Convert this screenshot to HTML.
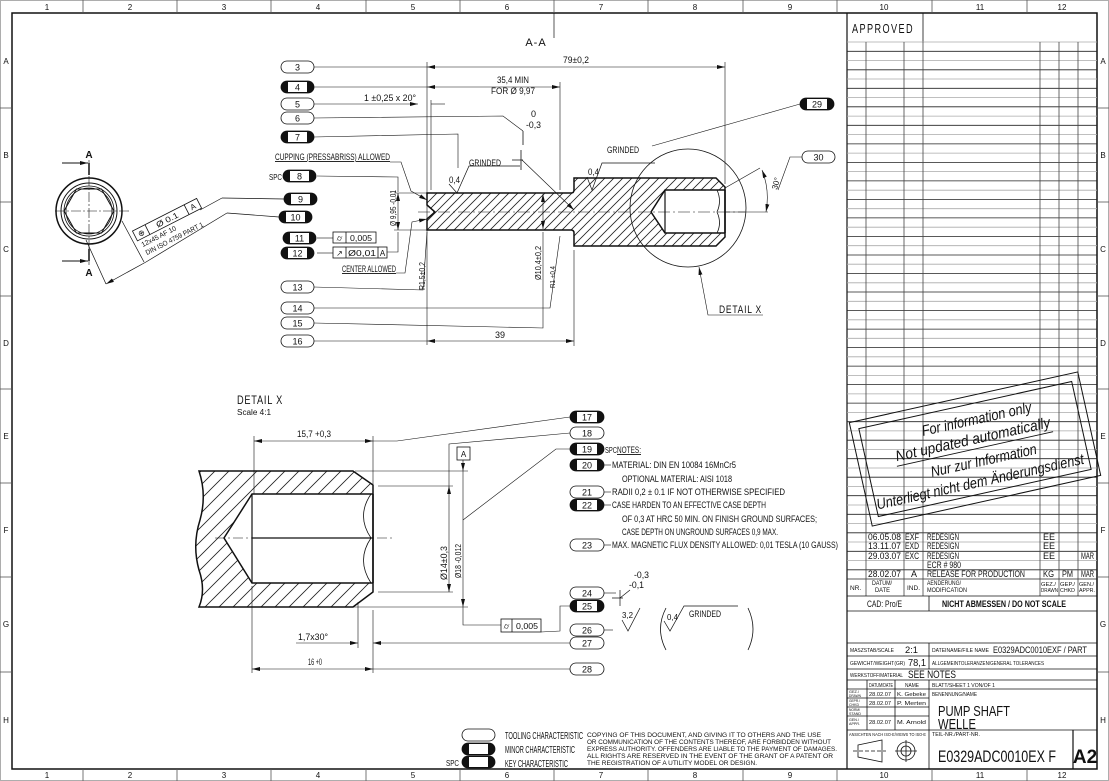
<!DOCTYPE html>
<html><head><meta charset="utf-8"><style>
html,body{margin:0;padding:0;background:#fff;}
svg{display:block;}
text{font-family:"Liberation Sans Narrow","Liberation Sans",sans-serif;fill:#111;}
</style></head><body>
<svg width="1109" height="781" viewBox="0 0 1109 781" xmlns="http://www.w3.org/2000/svg">
<defs>
<pattern id="h1" patternUnits="userSpaceOnUse" width="9" height="9"><path d="M-1,10 L10,-1 M-2,2 L2,-2 M7,11 L11,7" stroke="#222" stroke-width="0.8"/></pattern>
<pattern id="h2" patternUnits="userSpaceOnUse" width="14" height="14"><path d="M-1,15 L15,-1 M-2,2 L2,-2 M12,16 L16,12" stroke="#222" stroke-width="0.8"/></pattern>
<marker id="ar" markerWidth="8" markerHeight="6" refX="8" refY="3" orient="auto" markerUnits="userSpaceOnUse"><path d="M0,1 L8,3 L0,5z" fill="#111"/></marker>
<marker id="al" markerWidth="8" markerHeight="6" refX="0" refY="3" orient="auto" markerUnits="userSpaceOnUse"><path d="M8,1 L0,3 L8,5z" fill="#111"/></marker>
</defs>
<rect width="1109" height="781" fill="#fff"/>
<g stroke="#111" fill="none">
<rect x="12" y="13" width="1085" height="756" stroke-width="1.5"/>
<rect x="0.5" y="0.5" width="1108" height="780" stroke="#999" stroke-width="0.8"/>
</g>
<g stroke="#555" stroke-width="0.8">
<line x1="83" y1="0" x2="83" y2="13"/><line x1="177" y1="0" x2="177" y2="13"/><line x1="271" y1="0" x2="271" y2="13"/><line x1="366" y1="0" x2="366" y2="13"/><line x1="460" y1="0" x2="460" y2="13"/><line x1="554" y1="0" x2="554" y2="13"/><line x1="648" y1="0" x2="648" y2="13"/><line x1="743" y1="0" x2="743" y2="13"/><line x1="837" y1="0" x2="837" y2="13"/><line x1="932" y1="0" x2="932" y2="13"/><line x1="1027" y1="0" x2="1027" y2="13"/>
<line x1="83" y1="769" x2="83" y2="781"/><line x1="177" y1="769" x2="177" y2="781"/><line x1="271" y1="769" x2="271" y2="781"/><line x1="366" y1="769" x2="366" y2="781"/><line x1="460" y1="769" x2="460" y2="781"/><line x1="554" y1="769" x2="554" y2="781"/><line x1="648" y1="769" x2="648" y2="781"/><line x1="743" y1="769" x2="743" y2="781"/><line x1="837" y1="769" x2="837" y2="781"/><line x1="932" y1="769" x2="932" y2="781"/><line x1="1027" y1="769" x2="1027" y2="781"/>
<line x1="0" y1="108" x2="12" y2="108"/><line x1="0" y1="202" x2="12" y2="202"/><line x1="0" y1="296" x2="12" y2="296"/><line x1="0" y1="389" x2="12" y2="389"/><line x1="0" y1="483" x2="12" y2="483"/><line x1="0" y1="577" x2="12" y2="577"/><line x1="0" y1="672" x2="12" y2="672"/>
<line x1="1097" y1="108" x2="1109" y2="108"/><line x1="1097" y1="202" x2="1109" y2="202"/><line x1="1097" y1="296" x2="1109" y2="296"/><line x1="1097" y1="389" x2="1109" y2="389"/><line x1="1097" y1="483" x2="1109" y2="483"/><line x1="1097" y1="577" x2="1109" y2="577"/><line x1="1097" y1="672" x2="1109" y2="672"/>
</g>
<g font-size="8" text-anchor="middle">
<text x="47" y="10">1</text><text x="130" y="10">2</text><text x="224" y="10">3</text><text x="318" y="10">4</text><text x="413" y="10">5</text><text x="507" y="10">6</text><text x="601" y="10">7</text><text x="695" y="10">8</text><text x="790" y="10">9</text><text x="884" y="10">10</text><text x="980" y="10">11</text><text x="1062" y="10">12</text>
<text x="47" y="778">1</text><text x="130" y="778">2</text><text x="224" y="778">3</text><text x="318" y="778">4</text><text x="413" y="778">5</text><text x="507" y="778">6</text><text x="601" y="778">7</text><text x="695" y="778">8</text><text x="790" y="778">9</text><text x="884" y="778">10</text><text x="980" y="778">11</text><text x="1062" y="778">12</text>
<text x="6" y="64">A</text><text x="6" y="158">B</text><text x="6" y="252">C</text><text x="6" y="346">D</text><text x="6" y="439">E</text><text x="6" y="533">F</text><text x="6" y="627">G</text><text x="6" y="723">H</text>
<text x="1103" y="64">A</text><text x="1103" y="158">B</text><text x="1103" y="252">C</text><text x="1103" y="346">D</text><text x="1103" y="439">E</text><text x="1103" y="533">F</text><text x="1103" y="627">G</text><text x="1103" y="723">H</text>
</g>

<!-- LEFT END VIEW -->
<g stroke="#111" fill="none">
<circle cx="89" cy="211" r="33" stroke-width="1.5"/>
<circle cx="89" cy="211" r="28" stroke-width="1"/>
<circle cx="89" cy="211" r="25" stroke-width="0.8"/>
<circle cx="89" cy="211" r="23" stroke-width="0.8"/>
<polygon points="64,211 76.5,189 101.5,189 114,211 101.5,233 76.5,233" stroke-width="1"/>
<line x1="89" y1="160" x2="89" y2="265" stroke-width="0.6" stroke-dasharray="10,2,2,2"/>
<line x1="55" y1="211" x2="130" y2="211" stroke-width="0.6" stroke-dasharray="10,2,2,2"/>
<line x1="62" y1="163" x2="88" y2="163" stroke-width="1" marker-end="url(#ar)"/>
<line x1="62" y1="261" x2="88" y2="261" stroke-width="1" marker-end="url(#ar)"/>
<line x1="89" y1="163" x2="89" y2="175" stroke-width="1.5"/>
<line x1="89" y1="249" x2="89" y2="261" stroke-width="1.5"/>
<line x1="122" y1="221" x2="144" y2="262" stroke-width="0.7"/>
<line x1="86" y1="240" x2="106" y2="284" stroke-width="0.7"/>
<line x1="106" y1="284" x2="146" y2="262" stroke-width="0.7" marker-start="url(#al)"/>
<line x1="200" y1="210" x2="222" y2="198" stroke-width="0.7"/>
<line x1="222" y1="198" x2="284" y2="199" stroke-width="0.7"/>
<line x1="146" y1="262" x2="227" y2="213" stroke-width="0.7"/>
<line x1="227" y1="213" x2="279" y2="217" stroke-width="0.7"/>
</g>
<text x="89" y="158" font-size="10" text-anchor="middle" font-weight="bold">A</text>
<text x="89" y="276" font-size="10" text-anchor="middle" font-weight="bold">A</text>
<g transform="translate(137,240) rotate(-27)">
<rect x="0" y="-10" width="72" height="11" fill="#fff" stroke="#111" stroke-width="0.8"/>
<line x1="14" y1="-10" x2="14" y2="1" stroke="#111" stroke-width="0.8"/>
<line x1="58" y1="-10" x2="58" y2="1" stroke="#111" stroke-width="0.8"/>
<text x="7" y="-1.5" font-size="8" text-anchor="middle">⊕</text>
<text x="24" y="-1.5" font-size="8" textLength="24" lengthAdjust="spacingAndGlyphs">Ø 0.1</text>
<text x="65" y="-1.5" font-size="8" text-anchor="middle">A</text>
<text x="2" y="9" font-size="7" textLength="38" lengthAdjust="spacingAndGlyphs">12x45 AF 10</text>
<text x="2" y="18" font-size="7" textLength="64" lengthAdjust="spacingAndGlyphs">DIN ISO 4759 PART 1</text>
</g>

<!-- SECTION A-A -->
<text x="536" y="46" font-size="11" text-anchor="middle" letter-spacing="1">A-A</text>
<line x1="554" y1="13" x2="554" y2="38" stroke="#111" stroke-width="0.7"/>
<path fill="url(#h1)" fill-rule="evenodd" stroke="#111" stroke-width="1.5" d="M427,193 L571,193 Q574,193 574,190 L574,178 L716,178 L725,187 L725,237 L716,246 L574,246 L574,233 Q574,230 571,230 L427,230 L427,219 L435,212 L427,205 Z M665,190 L651,212 L665,233 L725,233 L725,190 Z"/>
<g stroke="#111" fill="none">
<line x1="725" y1="190" x2="725" y2="233" stroke-width="1.5"/>
<path d="M717,190 Q722,201 717,212 Q722,223 717,233" stroke-width="0.8"/>
<line x1="665" y1="190" x2="665" y2="233" stroke-width="1.2"/>
<line x1="418" y1="212" x2="745" y2="212" stroke-width="0.6" stroke-dasharray="12,3,2,3"/>
<line x1="427" y1="62" x2="427" y2="345" stroke-width="0.6"/>
<line x1="431" y1="100" x2="431" y2="190" stroke-width="0.6"/>
<line x1="560" y1="82" x2="560" y2="190" stroke-width="0.6"/>
<line x1="574" y1="250" x2="574" y2="346" stroke-width="0.6"/>
<line x1="725" y1="62" x2="725" y2="184" stroke-width="0.6"/>
<line x1="314" y1="67" x2="427" y2="67" stroke-width="0.6"/>
<line x1="427" y1="67" x2="725" y2="67" stroke-width="0.6" marker-start="url(#al)" marker-end="url(#ar)"/>
<line x1="314" y1="87" x2="427" y2="87" stroke-width="0.6"/>
<line x1="427" y1="87" x2="560" y2="87" stroke-width="0.6" marker-start="url(#al)" marker-end="url(#ar)"/>
<line x1="314" y1="104" x2="418" y2="104" stroke-width="0.6" marker-end="url(#ar)"/>
<line x1="431" y1="104" x2="445" y2="104" stroke-width="0.6"/>
<line x1="314" y1="341" x2="427" y2="341" stroke-width="0.6"/>
<line x1="427" y1="341" x2="574" y2="341" stroke-width="0.6" marker-start="url(#al)" marker-end="url(#ar)"/>
<polyline points="314,118 503,116 523,131" stroke-width="0.6"/>
<line x1="523" y1="131" x2="523" y2="145" stroke-width="0.8"/>
<path d="M512,160 L523,160 M521,150 L521,170" stroke-width="0.8"/>
<line x1="522" y1="160" x2="574" y2="210" stroke-width="0.6" marker-end="url(#ar)"/>
<polyline points="314,137 458,134 458,168" stroke-width="0.6"/>
<path d="M449,184 L457,193 L469,166 L520,166" stroke-width="0.7"/>
<path d="M587,177 L592,190 L602,163 L655,163" stroke-width="0.7"/>
<line x1="652" y1="146" x2="800" y2="104" stroke-width="0.6"/>
<polyline points="802,157 790,157 778,190" stroke-width="0.6"/>
<path d="M762,170 Q770,190 766,212" stroke-width="0.6" marker-start="url(#al)" marker-end="url(#ar)"/>
<line x1="725" y1="188" x2="760" y2="168" stroke-width="0.6"/>
<line x1="725" y1="212" x2="768" y2="212" stroke-width="0.6"/>
<ellipse cx="688" cy="208" rx="58" ry="59" stroke-width="0.8"/>
<polyline points="699,267 708,315 763,315" stroke-width="0.6" marker-start="url(#al)"/>
<polyline points="390,162 401,162 411,191 427,200" stroke-width="0.6" marker-end="url(#ar)"/>
<polyline points="317,176 398,177 398,192" stroke-width="0.6"/>
<line x1="398" y1="193" x2="398" y2="230" stroke-width="0.6" marker-start="url(#al)" marker-end="url(#ar)"/>
<line x1="394" y1="193" x2="427" y2="193" stroke-width="0.6"/>
<line x1="394" y1="230" x2="427" y2="230" stroke-width="0.6"/>
<polyline points="387,252 398,252 398,232" stroke-width="0.6"/>
<polyline points="317,238 333,238" stroke-width="0.6"/>
<polyline points="317,253 333,253" stroke-width="0.6"/>
<polyline points="396,273 405,273 412,222 427,219" stroke-width="0.6" marker-end="url(#ar)"/>
<polyline points="314,287 423,290 427,232" stroke-width="0.6"/>
<polyline points="314,308 550,308 560,236" stroke-width="0.6"/>
<polyline points="314,323 543,328 543,232" stroke-width="0.6"/>
<line x1="543" y1="194" x2="543" y2="229" stroke-width="0.6" marker-start="url(#al)" marker-end="url(#ar)"/>
</g>
<rect x="333" y="232" width="43" height="11" fill="#fff" stroke="#111" stroke-width="0.8"/>
<line x1="346" y1="232" x2="346" y2="243" stroke="#111" stroke-width="0.8"/>
<text x="339.5" y="241" font-size="8" text-anchor="middle">⌭</text>
<text x="350" y="241" font-size="8" textLength="22" lengthAdjust="spacingAndGlyphs">0,005</text>
<rect x="333" y="247" width="54" height="11" fill="#fff" stroke="#111" stroke-width="0.8"/>
<line x1="346" y1="247" x2="346" y2="258" stroke="#111" stroke-width="0.8"/>
<line x1="378" y1="247" x2="378" y2="258" stroke="#111" stroke-width="0.8"/>
<text x="339.5" y="256" font-size="8" text-anchor="middle">↗</text>
<text x="348" y="256" font-size="8" textLength="28" lengthAdjust="spacingAndGlyphs">Ø0,01</text>
<text x="382.5" y="256" font-size="8" text-anchor="middle">A</text>
<g font-size="9">
<text x="576" y="63" text-anchor="middle" textLength="26" lengthAdjust="spacingAndGlyphs">79±0,2</text>
<text x="513" y="83" text-anchor="middle" textLength="32" lengthAdjust="spacingAndGlyphs">35,4 MIN</text>
<text x="513" y="94" text-anchor="middle" textLength="44" lengthAdjust="spacingAndGlyphs">FOR Ø 9,97</text>
<text x="364" y="101" textLength="52" lengthAdjust="spacingAndGlyphs">1 ±0,25 x 20°</text>
<text x="531" y="117">0</text>
<text x="526" y="128" textLength="15" lengthAdjust="spacingAndGlyphs">-0,3</text>
<text x="469" y="166" textLength="32" lengthAdjust="spacingAndGlyphs">GRINDED</text>
<text x="449" y="183" textLength="11" lengthAdjust="spacingAndGlyphs">0,4</text>
<text x="607" y="153" textLength="32" lengthAdjust="spacingAndGlyphs">GRINDED</text>
<text x="588" y="175" textLength="11" lengthAdjust="spacingAndGlyphs">0,4</text>
<text x="275" y="160" text-decoration="underline" textLength="115" lengthAdjust="spacingAndGlyphs">CUPPING (PRESSABRISS) ALLOWED</text>
<text x="269" y="180" font-size="8" textLength="13" lengthAdjust="spacingAndGlyphs">SPC</text>
<text x="342" y="272" text-decoration="underline" textLength="54" lengthAdjust="spacingAndGlyphs">CENTER ALLOWED</text>
<text x="500" y="338" text-anchor="middle">39</text>
<text x="719" y="313" font-size="11" letter-spacing="1" textLength="43" lengthAdjust="spacingAndGlyphs">DETAIL X</text>
</g>
<text transform="translate(396,226) rotate(-90)" font-size="8" textLength="36" lengthAdjust="spacingAndGlyphs">Ø 9,95 -0,01</text>
<text transform="translate(425,290) rotate(-90)" font-size="8" textLength="28" lengthAdjust="spacingAndGlyphs">R1,5±0,2</text>
<text transform="translate(541,280) rotate(-90)" font-size="8" textLength="34" lengthAdjust="spacingAndGlyphs">Ø10,4±0,2</text>
<text transform="translate(555,288) rotate(-90)" font-size="7" textLength="22" lengthAdjust="spacingAndGlyphs">R1 +0,4</text>
<text transform="translate(777,190) rotate(-75)" font-size="8">30°</text>

<!-- DETAIL X -->
<text x="237" y="404" font-size="12" letter-spacing="1" textLength="46" lengthAdjust="spacingAndGlyphs">DETAIL X</text>
<text x="237" y="415" font-size="8" textLength="34" lengthAdjust="spacingAndGlyphs">Scale 4:1</text>
<path fill="url(#h2)" fill-rule="evenodd" stroke="#111" stroke-width="1.5" d="M199,471 L353,471 L373,485 L373,592 L353,607 L199,607 Q206,590 199,570 Q192,545 200,520 Q207,495 199,471 Z M252,494 L224,538 L252,583 L373,583 L373,494 Z"/>
<g stroke="#111" fill="none">
<line x1="373" y1="494" x2="373" y2="583" stroke-width="1.5"/>
<line x1="252" y1="494" x2="252" y2="583" stroke-width="1.2"/>
<line x1="252" y1="538" x2="373" y2="538" stroke-width="1.2"/>
<path d="M371,494 Q356,516 371,538 Q356,560 371,583" stroke-width="0.8"/>
<line x1="215" y1="538" x2="392" y2="538" stroke-width="0.6" stroke-dasharray="10,3,2,3"/>
<line x1="254" y1="436" x2="254" y2="494" stroke-width="0.6"/>
<line x1="373" y1="436" x2="373" y2="484" stroke-width="0.6"/>
<line x1="254" y1="441" x2="373" y2="441" stroke-width="0.6" marker-start="url(#al)" marker-end="url(#ar)"/>
<polyline points="373,441 397,441 570,417" stroke-width="0.6"/>
<polyline points="570,433 449,444 449,486" stroke-width="0.6"/>
<line x1="449" y1="486" x2="449" y2="592" stroke-width="0.6" marker-start="url(#al)" marker-end="url(#ar)"/>
<line x1="378" y1="486" x2="453" y2="486" stroke-width="0.6"/>
<line x1="378" y1="592" x2="453" y2="592" stroke-width="0.6"/>
<line x1="355" y1="471" x2="468" y2="471" stroke-width="0.6"/>
<line x1="200" y1="607" x2="468" y2="607" stroke-width="0.6"/>
<line x1="463" y1="460" x2="463" y2="471" stroke-width="0.6" marker-end="url(#ar)"/>
<line x1="463" y1="471" x2="463" y2="607" stroke-width="0.6" marker-end="url(#ar)"/>
<polyline points="463,607 463,625 501,625" stroke-width="0.6"/>
<polyline points="570,449 556,449 463,520" stroke-width="0.6"/>
<polyline points="541,632 560,631 560,606 570,606" stroke-width="0.6"/>
<line x1="604" y1="593" x2="616" y2="593" stroke-width="0.6"/>
<path d="M612,598 L623,598 M620,590 L620,606 M620,598 L630,590" stroke-width="0.7"/>
<line x1="604" y1="630" x2="613" y2="630" stroke-width="0.6"/>
<path d="M622,620 L628,631 L640,608" stroke-width="0.7"/>
<path d="M664,621 L670,631 L684,606 L738,606" stroke-width="0.7"/>
<path d="M666,608 Q655,629 666,650" stroke-width="0.8"/>
<path d="M748,608 Q758,629 748,650" stroke-width="0.8"/>
<line x1="373" y1="643" x2="570" y2="643" stroke-width="0.6" marker-start="url(#al)"/>
<line x1="358" y1="602" x2="358" y2="648" stroke-width="0.6"/>
<line x1="296" y1="643" x2="358" y2="643" stroke-width="0.6" marker-end="url(#ar)"/>
<line x1="252" y1="586" x2="252" y2="673" stroke-width="0.6"/>
<line x1="373" y1="610" x2="373" y2="673" stroke-width="0.6"/>
<line x1="252" y1="669" x2="373" y2="669" stroke-width="0.6" marker-start="url(#al)" marker-end="url(#ar)"/>
<line x1="373" y1="669" x2="570" y2="669" stroke-width="0.6"/>
<line x1="604" y1="465" x2="611" y2="465" stroke-width="0.6"/>
<line x1="604" y1="492" x2="611" y2="492" stroke-width="0.6"/>
<line x1="604" y1="505" x2="611" y2="505" stroke-width="0.6"/>
<line x1="604" y1="545" x2="611" y2="545" stroke-width="0.6"/>
</g>
<rect x="457" y="447" width="13" height="13" fill="#fff" stroke="#111" stroke-width="0.8"/>
<text x="463.5" y="457" font-size="8" text-anchor="middle">A</text>
<rect x="501" y="619" width="40" height="13" fill="#fff" stroke="#111" stroke-width="0.8"/>
<line x1="512" y1="619" x2="512" y2="632" stroke="#111" stroke-width="0.8"/>
<text x="506.5" y="629" font-size="8" text-anchor="middle">⌭</text>
<text x="516" y="629" font-size="8" textLength="22" lengthAdjust="spacingAndGlyphs">0,005</text>
<g font-size="9">
<text x="314" y="437" text-anchor="middle" textLength="34" lengthAdjust="spacingAndGlyphs">15,7 +0,3</text>
<text x="298" y="640" textLength="30" lengthAdjust="spacingAndGlyphs">1,7x30°</text>
<text x="315" y="665" text-anchor="middle" textLength="14" lengthAdjust="spacingAndGlyphs">16 +0</text>
<text x="605" y="453" font-size="8" textLength="12" lengthAdjust="spacingAndGlyphs">SPC</text>
<text x="617" y="453" text-decoration="underline" textLength="24" lengthAdjust="spacingAndGlyphs">NOTES:</text>
<text x="612" y="468" textLength="124" lengthAdjust="spacingAndGlyphs">MATERIAL: DIN EN 10084 16MnCr5</text>
<text x="622" y="482" textLength="110" lengthAdjust="spacingAndGlyphs">OPTIONAL MATERIAL: AISI 1018</text>
<text x="612" y="495" textLength="173" lengthAdjust="spacingAndGlyphs">RADII 0,2 ± 0.1 IF NOT OTHERWISE SPECIFIED</text>
<text x="612" y="508" textLength="154" lengthAdjust="spacingAndGlyphs">CASE HARDEN TO AN EFFECTIVE CASE DEPTH</text>
<text x="622" y="522" textLength="195" lengthAdjust="spacingAndGlyphs">OF 0,3 AT HRC 50 MIN. ON FINISH GROUND SURFACES;</text>
<text x="622" y="535" textLength="156" lengthAdjust="spacingAndGlyphs">CASE DEPTH ON UNGROUND SURFACES 0,9 MAX.</text>
<text x="612" y="548" textLength="226" lengthAdjust="spacingAndGlyphs">MAX. MAGNETIC FLUX DENSITY ALLOWED: 0,01 TESLA (10 GAUSS)</text>
<text x="634" y="578" textLength="15" lengthAdjust="spacingAndGlyphs">-0,3</text>
<text x="629" y="588" textLength="15" lengthAdjust="spacingAndGlyphs">-0,1</text>
<text x="689" y="617" textLength="32" lengthAdjust="spacingAndGlyphs">GRINDED</text>
<text x="622" y="618" font-size="8" textLength="11" lengthAdjust="spacingAndGlyphs">3,2</text>
<text x="667" y="620" font-size="8" textLength="11" lengthAdjust="spacingAndGlyphs">0,4</text>
</g>
<text transform="translate(447,580) rotate(-90)" font-size="9" textLength="34" lengthAdjust="spacingAndGlyphs">Ø14±0,3</text>
<text transform="translate(461,578) rotate(-90)" font-size="8" textLength="34" lengthAdjust="spacingAndGlyphs">Ø18 -0,012</text>

<!-- BALLOONS -->
<g stroke="#111" stroke-width="0.8">
<g fill="#fff">
<rect x="281" y="61" width="33" height="12" rx="6"/><rect x="281" y="98" width="33" height="12" rx="6"/><rect x="281" y="112" width="33" height="12" rx="6"/><rect x="281" y="281" width="33" height="12" rx="6"/><rect x="281" y="302" width="33" height="12" rx="6"/><rect x="281" y="317" width="33" height="12" rx="6"/><rect x="281" y="335" width="33" height="12" rx="6"/>
<rect x="802" y="151" width="33" height="12" rx="6"/>
<rect x="570" y="427" width="34" height="12" rx="6"/><rect x="570" y="486" width="34" height="12" rx="6"/><rect x="570" y="539" width="34" height="12" rx="6"/><rect x="570" y="587" width="34" height="12" rx="6"/><rect x="570" y="624" width="34" height="12" rx="6"/><rect x="570" y="637" width="34" height="12" rx="6"/><rect x="570" y="663" width="34" height="12" rx="6"/>
<rect x="462" y="729" width="33" height="12" rx="6"/>
</g>
<g fill="#111">
<rect x="281" y="81" width="33" height="12" rx="6"/><rect x="281" y="131" width="33" height="12" rx="6"/><rect x="283" y="170" width="33" height="12" rx="6"/><rect x="284" y="193" width="33" height="12" rx="6"/><rect x="279" y="211" width="33" height="12" rx="6"/><rect x="283" y="232" width="33" height="12" rx="6"/><rect x="281" y="247" width="33" height="12" rx="6"/>
<rect x="800" y="98" width="34" height="12" rx="6"/>
<rect x="570" y="411" width="34" height="12" rx="6"/><rect x="570" y="443" width="34" height="12" rx="6"/><rect x="570" y="459" width="34" height="12" rx="6"/><rect x="570" y="499" width="34" height="12" rx="6"/><rect x="570" y="600" width="34" height="12" rx="6"/>
<rect x="462" y="743" width="33" height="12" rx="6"/><rect x="462" y="756" width="33" height="12" rx="6"/>
</g>
</g>
<g fill="#fff">
<rect x="288" y="82" width="19" height="10"/><rect x="288" y="132" width="19" height="10"/><rect x="290" y="171" width="19" height="10"/><rect x="291" y="194" width="19" height="10"/><rect x="286" y="212" width="19" height="10"/><rect x="290" y="233" width="19" height="10"/><rect x="288" y="248" width="19" height="10"/>
<rect x="807" y="99" width="20" height="10"/>
<rect x="577" y="412" width="20" height="10"/><rect x="577" y="444" width="20" height="10"/><rect x="577" y="460" width="20" height="10"/><rect x="577" y="500" width="20" height="10"/><rect x="577" y="601" width="20" height="10"/>
<rect x="469" y="744" width="19" height="10"/><rect x="469" y="757" width="19" height="10"/>
</g>
<g font-size="9" text-anchor="middle">
<text x="297.5" y="70.5">3</text><text x="297.5" y="90.5">4</text><text x="297.5" y="107.5">5</text><text x="297.5" y="121.5">6</text><text x="297.5" y="140.5">7</text><text x="299.5" y="179.5">8</text><text x="300.5" y="202.5">9</text><text x="295.5" y="220.5">10</text><text x="299.5" y="241.5">11</text><text x="297.5" y="256.5">12</text><text x="297.5" y="290.5">13</text><text x="297.5" y="311.5">14</text><text x="297.5" y="326.5">15</text><text x="297.5" y="344.5">16</text>
<text x="817" y="107.5">29</text><text x="818.5" y="160.5">30</text>
<text x="587" y="420.5">17</text><text x="587" y="436.5">18</text><text x="587" y="452.5">19</text><text x="587" y="468.5">20</text><text x="587" y="495.5">21</text><text x="587" y="508.5">22</text><text x="587" y="548.5">23</text><text x="587" y="596.5">24</text><text x="587" y="609.5">25</text><text x="587" y="633.5">26</text><text x="587" y="646.5">27</text><text x="587" y="672.5">28</text>
</g>

<!-- legend -->
<text x="446" y="766" font-size="8" textLength="13" lengthAdjust="spacingAndGlyphs">SPC</text>
<g font-size="10">
<text x="505" y="739" textLength="78" lengthAdjust="spacingAndGlyphs">TOOLING CHARACTERISTIC</text>
<text x="505" y="753" textLength="70" lengthAdjust="spacingAndGlyphs">MINOR CHARACTERISTIC</text>
<text x="505" y="767" textLength="63" lengthAdjust="spacingAndGlyphs">KEY CHARACTERISTIC</text>
</g>
<g font-size="6.6">
<text x="587" y="737" textLength="234" lengthAdjust="spacingAndGlyphs">COPYING OF THIS DOCUMENT, AND GIVING IT TO OTHERS AND THE USE</text>
<text x="587" y="744" textLength="244" lengthAdjust="spacingAndGlyphs">OR COMMUNICATION OF THE CONTENTS THEREOF, ARE FORBIDDEN WITHOUT</text>
<text x="587" y="751" textLength="250" lengthAdjust="spacingAndGlyphs">EXPRESS AUTHORITY. OFFENDERS ARE LIABLE TO THE PAYMENT OF DAMAGES.</text>
<text x="587" y="758" textLength="246" lengthAdjust="spacingAndGlyphs">ALL RIGHTS ARE RESERVED IN THE EVENT OF THE GRANT OF A PATENT OR</text>
<text x="587" y="765" textLength="170" lengthAdjust="spacingAndGlyphs">THE REGISTRATION OF A UTILITY MODEL OR DESIGN.</text>
</g>

<!-- TITLE BLOCK -->
<g stroke="#111" fill="none">
<line x1="847" y1="13" x2="847" y2="769" stroke-width="1.2"/>
<line x1="923" y1="13" x2="923" y2="42" stroke-width="0.8"/>
</g>
<text x="852" y="33" font-size="13" letter-spacing="2" textLength="62" lengthAdjust="spacingAndGlyphs">APPROVED</text>
<g stroke-width="0.8">
<line x1="847" y1="42" x2="1097" y2="42" stroke="#aaa"/><line x1="847" y1="51.3" x2="1097" y2="51.3" stroke="#222"/><line x1="847" y1="60.5" x2="1097" y2="60.5" stroke="#aaa"/><line x1="847" y1="69.8" x2="1097" y2="69.8" stroke="#222"/><line x1="847" y1="79" x2="1097" y2="79" stroke="#aaa"/><line x1="847" y1="88.3" x2="1097" y2="88.3" stroke="#222"/><line x1="847" y1="97.6" x2="1097" y2="97.6" stroke="#aaa"/><line x1="847" y1="106.8" x2="1097" y2="106.8" stroke="#222"/><line x1="847" y1="116.1" x2="1097" y2="116.1" stroke="#aaa"/><line x1="847" y1="125.3" x2="1097" y2="125.3" stroke="#222"/><line x1="847" y1="134.6" x2="1097" y2="134.6" stroke="#aaa"/><line x1="847" y1="143.9" x2="1097" y2="143.9" stroke="#222"/><line x1="847" y1="153.1" x2="1097" y2="153.1" stroke="#aaa"/><line x1="847" y1="162.4" x2="1097" y2="162.4" stroke="#222"/><line x1="847" y1="171.6" x2="1097" y2="171.6" stroke="#aaa"/><line x1="847" y1="180.9" x2="1097" y2="180.9" stroke="#222"/><line x1="847" y1="190.2" x2="1097" y2="190.2" stroke="#aaa"/><line x1="847" y1="199.4" x2="1097" y2="199.4" stroke="#222"/><line x1="847" y1="208.7" x2="1097" y2="208.7" stroke="#aaa"/><line x1="847" y1="217.9" x2="1097" y2="217.9" stroke="#222"/><line x1="847" y1="227.2" x2="1097" y2="227.2" stroke="#aaa"/><line x1="847" y1="236.5" x2="1097" y2="236.5" stroke="#222"/><line x1="847" y1="245.7" x2="1097" y2="245.7" stroke="#aaa"/><line x1="847" y1="255" x2="1097" y2="255" stroke="#222"/><line x1="847" y1="264.2" x2="1097" y2="264.2" stroke="#aaa"/><line x1="847" y1="273.5" x2="1097" y2="273.5" stroke="#222"/><line x1="847" y1="282.8" x2="1097" y2="282.8" stroke="#aaa"/><line x1="847" y1="292" x2="1097" y2="292" stroke="#222"/><line x1="847" y1="301.3" x2="1097" y2="301.3" stroke="#aaa"/><line x1="847" y1="310.5" x2="1097" y2="310.5" stroke="#222"/><line x1="847" y1="319.8" x2="1097" y2="319.8" stroke="#aaa"/><line x1="847" y1="329.1" x2="1097" y2="329.1" stroke="#222"/><line x1="847" y1="338.3" x2="1097" y2="338.3" stroke="#aaa"/><line x1="847" y1="347.6" x2="1097" y2="347.6" stroke="#222"/><line x1="847" y1="356.8" x2="1097" y2="356.8" stroke="#aaa"/><line x1="847" y1="366.1" x2="1097" y2="366.1" stroke="#222"/><line x1="847" y1="375.4" x2="1097" y2="375.4" stroke="#aaa"/><line x1="847" y1="384.6" x2="1097" y2="384.6" stroke="#222"/><line x1="847" y1="393.9" x2="1097" y2="393.9" stroke="#aaa"/><line x1="847" y1="403.1" x2="1097" y2="403.1" stroke="#222"/><line x1="847" y1="412.4" x2="1097" y2="412.4" stroke="#aaa"/><line x1="847" y1="421.7" x2="1097" y2="421.7" stroke="#222"/><line x1="847" y1="430.9" x2="1097" y2="430.9" stroke="#aaa"/><line x1="847" y1="440.2" x2="1097" y2="440.2" stroke="#222"/><line x1="847" y1="449.4" x2="1097" y2="449.4" stroke="#aaa"/><line x1="847" y1="458.7" x2="1097" y2="458.7" stroke="#222"/><line x1="847" y1="468" x2="1097" y2="468" stroke="#aaa"/><line x1="847" y1="477.2" x2="1097" y2="477.2" stroke="#222"/><line x1="847" y1="486.5" x2="1097" y2="486.5" stroke="#aaa"/><line x1="847" y1="495.7" x2="1097" y2="495.7" stroke="#222"/><line x1="847" y1="505" x2="1097" y2="505" stroke="#aaa"/><line x1="847" y1="514.3" x2="1097" y2="514.3" stroke="#222"/><line x1="847" y1="523.5" x2="1097" y2="523.5" stroke="#aaa"/><line x1="847" y1="532.8" x2="1097" y2="532.8" stroke="#222"/><line x1="847" y1="542" x2="1097" y2="542" stroke="#aaa"/><line x1="847" y1="551.3" x2="1097" y2="551.3" stroke="#222"/><line x1="847" y1="560.6" x2="1097" y2="560.6" stroke="#aaa"/><line x1="847" y1="569.8" x2="1097" y2="569.8" stroke="#222"/><line x1="847" y1="579" x2="1097" y2="579" stroke="#222"/>
</g>
<g stroke="#444" stroke-width="0.8">
<line x1="866" y1="42" x2="866" y2="596"/><line x1="904" y1="42" x2="904" y2="596"/><line x1="923" y1="42" x2="923" y2="596"/><line x1="1040" y1="42" x2="1040" y2="596"/><line x1="1059" y1="42" x2="1059" y2="596"/><line x1="1078" y1="42" x2="1078" y2="596"/>
</g>
<!-- stamp -->
<g transform="translate(975,449) rotate(-12.5)">
<rect x="-117" y="-53" width="234" height="106" fill="none" stroke="#111" stroke-width="1"/>
<rect x="-109" y="-45" width="218" height="90" fill="none" stroke="#111" stroke-width="1"/>
<line x1="-80" y1="0" x2="80" y2="0" stroke="#111" stroke-width="0.8"/>
<g font-family="Liberation Sans, sans-serif" font-style="italic" font-size="15" text-anchor="middle">
<text x="8" y="-24" textLength="112" lengthAdjust="spacingAndGlyphs">For information only</text>
<text x="0" y="-5" textLength="158" lengthAdjust="spacingAndGlyphs">Not updated automatically</text>
<text x="6" y="18" textLength="108" lengthAdjust="spacingAndGlyphs">Nur zur Information</text>
<text x="-2" y="38" textLength="212" lengthAdjust="spacingAndGlyphs">Unterliegt nicht dem Änderungsdienst</text>
</g>
</g>
<g font-size="9">
<text x="868" y="540" textLength="33" lengthAdjust="spacingAndGlyphs">06.05.08</text><text x="905" y="540" textLength="14" lengthAdjust="spacingAndGlyphs">EXF</text><text x="927" y="540" textLength="32" lengthAdjust="spacingAndGlyphs">REDESIGN</text><text x="1043" y="540">EE</text>
<text x="868" y="549" textLength="33" lengthAdjust="spacingAndGlyphs">13.11.07</text><text x="905" y="549" textLength="14" lengthAdjust="spacingAndGlyphs">EXD</text><text x="927" y="549" textLength="32" lengthAdjust="spacingAndGlyphs">REDESIGN</text><text x="1043" y="549">EE</text>
<text x="868" y="559" textLength="33" lengthAdjust="spacingAndGlyphs">29.03.07</text><text x="905" y="559" textLength="14" lengthAdjust="spacingAndGlyphs">EXC</text><text x="927" y="559" textLength="32" lengthAdjust="spacingAndGlyphs">REDESIGN</text><text x="1043" y="559">EE</text><text x="1081" y="559" textLength="13" lengthAdjust="spacingAndGlyphs">MAR</text>
<text x="927" y="568" textLength="34" lengthAdjust="spacingAndGlyphs">ECR # 980</text>
<text x="868" y="577" textLength="33" lengthAdjust="spacingAndGlyphs">28.02.07</text><text x="911" y="577">A</text><text x="927" y="577" textLength="98" lengthAdjust="spacingAndGlyphs">RELEASE FOR PRODUCTION</text><text x="1043" y="577" textLength="11" lengthAdjust="spacingAndGlyphs">KG</text><text x="1062" y="577" textLength="11" lengthAdjust="spacingAndGlyphs">PM</text><text x="1081" y="577" textLength="13" lengthAdjust="spacingAndGlyphs">MAR</text>
</g>
<g font-size="6.5">
<text x="850" y="590">NR.</text><text x="872" y="585" textLength="20" lengthAdjust="spacingAndGlyphs">DATUM/</text><text x="875" y="592" textLength="15" lengthAdjust="spacingAndGlyphs">DATE</text><text x="907" y="590" textLength="13" lengthAdjust="spacingAndGlyphs">IND.</text><text x="927" y="585" textLength="34" lengthAdjust="spacingAndGlyphs">AENDERUNG/</text><text x="927" y="592" textLength="40" lengthAdjust="spacingAndGlyphs">MODIFICATION</text>
<text x="1041" y="586" font-size="5" textLength="15" lengthAdjust="spacingAndGlyphs">GEZ./</text><text x="1041" y="592" font-size="5" textLength="17" lengthAdjust="spacingAndGlyphs">DRAWN</text><text x="1060" y="586" font-size="5" textLength="15" lengthAdjust="spacingAndGlyphs">GEP./</text><text x="1060" y="592" font-size="5" textLength="15" lengthAdjust="spacingAndGlyphs">CHKD</text><text x="1079" y="586" font-size="5" textLength="15" lengthAdjust="spacingAndGlyphs">GEN./</text><text x="1079" y="592" font-size="5" textLength="16" lengthAdjust="spacingAndGlyphs">APPR.</text>
</g>
<g stroke="#111" stroke-width="0.8">
<line x1="847" y1="596" x2="1097" y2="596"/>
<line x1="929" y1="596" x2="929" y2="611"/>
<line x1="847" y1="611" x2="1097" y2="611"/>
<line x1="847" y1="643" x2="1097" y2="643"/>
<line x1="847" y1="656" x2="1097" y2="656"/>
<line x1="847" y1="669" x2="1097" y2="669"/>
<line x1="847" y1="680" x2="1097" y2="680"/>
<line x1="847" y1="689" x2="1097" y2="689"/>
<line x1="929" y1="643" x2="929" y2="669"/>
<line x1="929" y1="680" x2="929" y2="769"/>
<line x1="867" y1="680" x2="867" y2="730"/>
<line x1="895" y1="680" x2="895" y2="730"/>
<line x1="847" y1="698" x2="929" y2="698"/>
<line x1="847" y1="707" x2="929" y2="707"/>
<line x1="847" y1="716" x2="929" y2="716"/>
<line x1="847" y1="730" x2="1097" y2="730"/>
<line x1="1073" y1="730" x2="1073" y2="769" stroke-width="1.2"/>
</g>
<text x="867" y="607" font-size="9" textLength="35" lengthAdjust="spacingAndGlyphs">CAD:  Pro/E</text>
<text x="942" y="607" font-size="9" font-weight="bold" textLength="124" lengthAdjust="spacingAndGlyphs">NICHT ABMESSEN / DO NOT SCALE</text>
<g font-size="5.5">
<text x="850" y="652" textLength="44" lengthAdjust="spacingAndGlyphs">MASZSTAB/SCALE</text><text x="932" y="652" textLength="57" lengthAdjust="spacingAndGlyphs">DATEINAME/FILE NAME</text>
<text x="850" y="665" textLength="55" lengthAdjust="spacingAndGlyphs">GEWICHT/WEIGHT(GR)</text><text x="932" y="665" textLength="112" lengthAdjust="spacingAndGlyphs">ALLGEMEINTOLERANZEN/GENERAL TOLERANCES</text>
<text x="850" y="677" textLength="53" lengthAdjust="spacingAndGlyphs">WERKSTOFF/MATERIAL</text>
<text x="869" y="687" textLength="24" lengthAdjust="spacingAndGlyphs">DATUM/DATE</text><text x="905" y="687" textLength="14" lengthAdjust="spacingAndGlyphs">NAME</text>
<text x="932" y="687" textLength="63" lengthAdjust="spacingAndGlyphs">BLATT/SHEET  1  VON/OF  1</text>
<text x="932" y="696" textLength="45" lengthAdjust="spacingAndGlyphs">BENENNUNG/NAME</text>
<text x="849" y="693" font-size="4" textLength="10" lengthAdjust="spacingAndGlyphs">GEZ./</text><text x="849" y="697" font-size="4" textLength="12" lengthAdjust="spacingAndGlyphs">DRAWN</text>
<text x="849" y="702" font-size="4" textLength="11" lengthAdjust="spacingAndGlyphs">GEPR./</text><text x="849" y="706" font-size="4" textLength="10" lengthAdjust="spacingAndGlyphs">CHKD</text>
<text x="849" y="711" font-size="4" textLength="11" lengthAdjust="spacingAndGlyphs">NORM/</text><text x="849" y="715" font-size="4" textLength="12" lengthAdjust="spacingAndGlyphs">STAND</text>
<text x="849" y="721" font-size="4" textLength="10" lengthAdjust="spacingAndGlyphs">GEN./</text><text x="849" y="725" font-size="4" textLength="11" lengthAdjust="spacingAndGlyphs">APPR.</text>
<text x="869" y="696" textLength="22" lengthAdjust="spacingAndGlyphs">28.02.07</text><text x="897" y="696" textLength="29" lengthAdjust="spacingAndGlyphs">K. Gebeke</text>
<text x="869" y="705" textLength="22" lengthAdjust="spacingAndGlyphs">28.02.07</text><text x="897" y="705" textLength="29" lengthAdjust="spacingAndGlyphs">P. Merten</text>
<text x="869" y="724" textLength="22" lengthAdjust="spacingAndGlyphs">28.02.07</text><text x="897" y="724" textLength="29" lengthAdjust="spacingAndGlyphs">M. Arnold</text>
<text x="849" y="736" font-size="4.5" textLength="77" lengthAdjust="spacingAndGlyphs">ANSICHTEN NACH ISO-E/VIEWS TO ISO-E</text>
<text x="932" y="736" textLength="48" lengthAdjust="spacingAndGlyphs">TEIL-NR./PART-NR.</text>
</g>
<text x="905" y="653" font-size="9" textLength="13" lengthAdjust="spacingAndGlyphs">2:1</text>
<text x="993" y="653" font-size="9" textLength="94" lengthAdjust="spacingAndGlyphs">E0329ADC0010EXF / PART</text>
<text x="908" y="666" font-size="10" textLength="18" lengthAdjust="spacingAndGlyphs">78,1</text>
<text x="908" y="678" font-size="11" textLength="48" lengthAdjust="spacingAndGlyphs">SEE  NOTES</text>
<text x="938" y="716" font-size="15" textLength="72" lengthAdjust="spacingAndGlyphs">PUMP SHAFT</text>
<text x="938" y="729" font-size="15" textLength="38" lengthAdjust="spacingAndGlyphs">WELLE</text>
<text x="938" y="762" font-size="17" textLength="118" lengthAdjust="spacingAndGlyphs">E0329ADC0010EX F</text>
<text x="1085" y="763" font-size="19" font-weight="bold" font-family="Liberation Sans, sans-serif" text-anchor="middle">A2</text>
<g stroke="#111" fill="none" stroke-width="0.8">
<path d="M858,745 L882,740 L882,762 L858,757 Z"/>
<line x1="853" y1="751" x2="886" y2="751" stroke-dasharray="4,2"/>
<circle cx="906" cy="751" r="9"/><circle cx="906" cy="751" r="5"/>
<line x1="895" y1="751" x2="917" y2="751"/><line x1="906" y1="740" x2="906" y2="762"/>
</g>
</svg>
</body></html>
